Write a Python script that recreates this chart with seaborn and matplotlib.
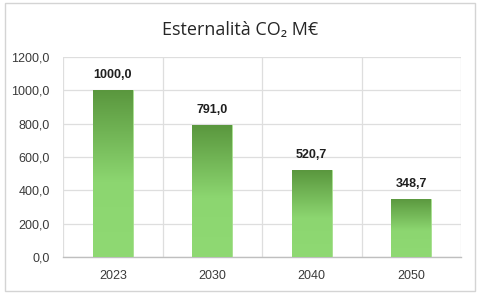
import numpy as np
import pandas as pd
import matplotlib
matplotlib.use("Agg")
import matplotlib.pyplot as plt
import seaborn as sns
from matplotlib.colors import LinearSegmentedColormap
from matplotlib.patches import Rectangle

years = ["2023", "2030", "2040", "2050"]
values = [1000.0, 791.0, 520.7, 348.7]
yticks = [0, 200, 400, 600, 800, 1000, 1200]
title = "Esternalità CO₂ M€"

df = pd.DataFrame({"Anno": years, "Valore": values})

sns.set_theme(style="white")
plt.rcParams['font.family'] = ['Liberation Sans', 'DejaVu Sans']

fig = plt.figure(figsize=(4.8, 2.97), dpi=100)
ax = fig.add_axes([63 / 480, 1 - 257 / 297, 398 / 480, 200 / 297])

sns.barplot(data=df, x="Anno", y="Valore", color="#8cd670", width=0.4, ax=ax,
            edgecolor="#a6e08c", linewidth=0.6, zorder=3)

ax.set_yticks(yticks)
ax.set_yticklabels([f"{v:.1f}".replace(".", ",") for v in yticks])
ax.set_xticks(np.arange(len(years)), minor=False)
ax.set_xticks(np.arange(len(years) + 1) - 0.5, minor=True)
ax.tick_params(axis="both", which="both", length=0, labelsize=9, colors="#3a3a3a")
ax.tick_params(axis="x", pad=9.5)
ax.tick_params(axis="y", pad=9.5)
ax.grid(axis="y", which="major", color="#dedede", linewidth=0.9, zorder=0)
ax.grid(axis="x", which="minor", color="#dedede", linewidth=0.9, zorder=0)
ax.set_xlabel("")
ax.set_ylabel("")
for s in ["top", "right", "left"]:
    ax.spines[s].set_visible(False)
ax.spines["bottom"].set_color("#bfbfbf")
ax.spines["bottom"].set_linewidth(1.0)

cmap = LinearSegmentedColormap.from_list(
    "g", [(0.0, "#5a973e"), (0.55, "#8cd670"), (1.0, "#8fd973")])
grad = np.linspace(0, 1, 256).reshape(-1, 1)
for bar in ax.patches:
    x0, y0 = bar.get_x(), bar.get_y()
    w, h = bar.get_width(), bar.get_height()
    im = ax.imshow(grad, cmap=cmap, aspect="auto", origin="upper",
                   extent=[x0, x0 + w, y0, y0 + h], zorder=3.5)
    im.set_clip_path(bar)
    ax.text(x0 + w / 2, h + 90, f"{h:.1f}".replace(".", ","), ha="center",
            va="center", fontsize=9, fontweight="bold", color="#1f1f1f", zorder=5)
ax.set_xlim(-0.5, len(years) - 0.5)
ax.set_ylim(0, 1200)

fig.text(0.5, 1 - 30 / 297, title, ha="center", va="center", fontsize=13,
         color="#262626", family=["Open Sans", "DejaVu Sans"])

fig.patches.append(Rectangle((5 / 480, 6 / 297), 470 / 480, 288 / 297,
                             transform=fig.transFigure, fill=False,
                             edgecolor="#d4d4d4", linewidth=1.0))

fig.savefig("out.png", dpi=100)
